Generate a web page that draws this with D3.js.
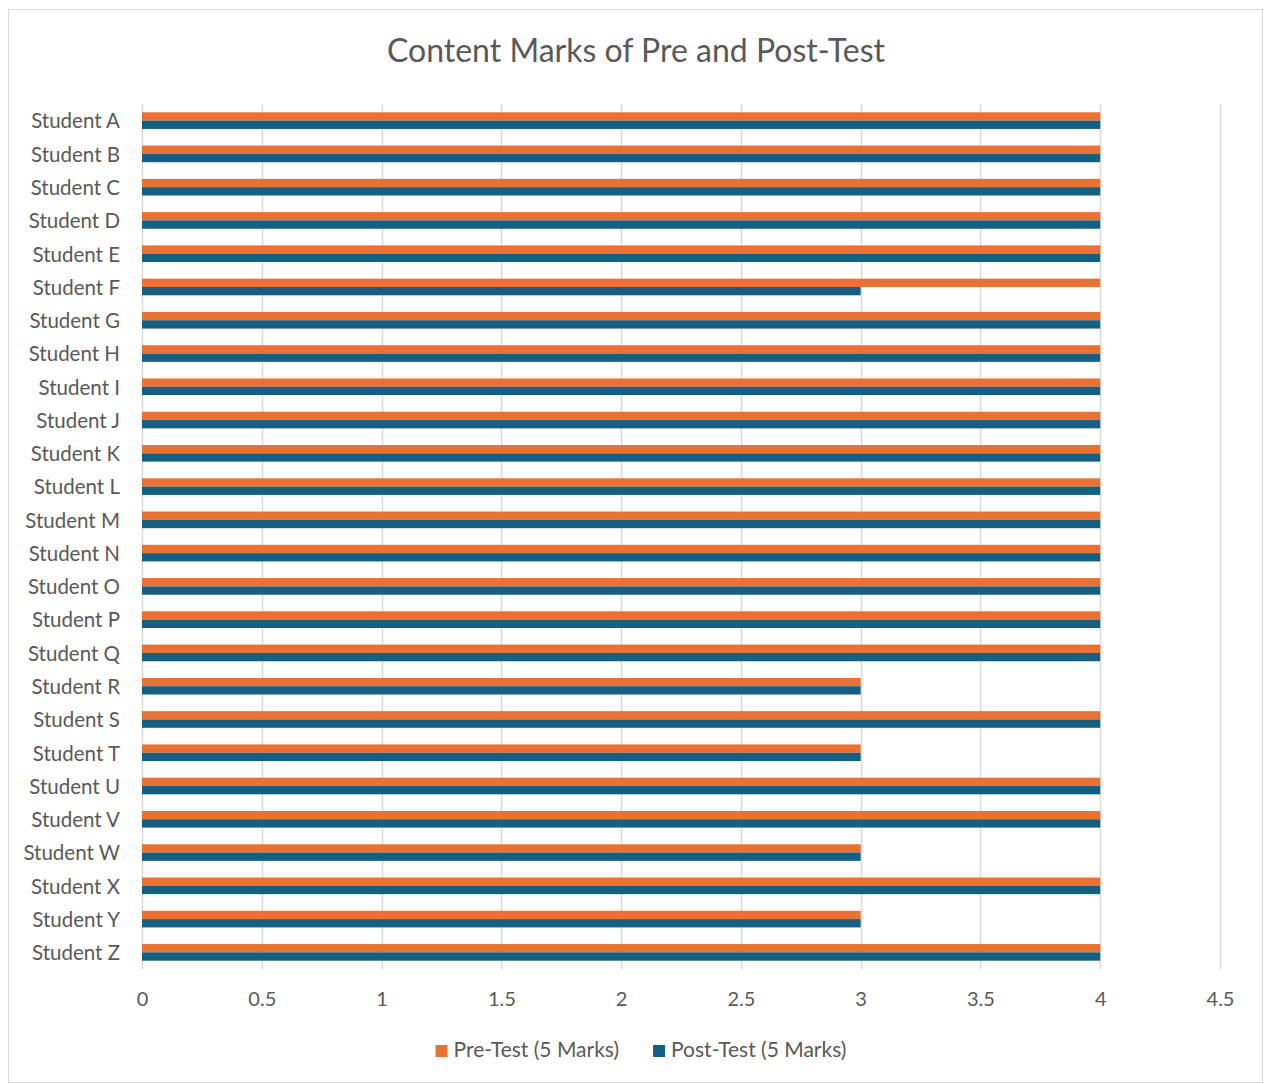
<!DOCTYPE html>
<html>
<head>
<meta charset="utf-8">
<script src="https://cdn.jsdelivr.net/npm/d3@7"></script>
<style>
  html, body { margin: 0; padding: 0; background: #ffffff; }
  svg { display: block; }
  text { font-family: Lato, "Open Sans", sans-serif; fill: #595959; }
</style>
</head>
<body>
<svg id="chart" width="1265" height="1084"></svg>
<script>
// Students on the vertical axis, top to bottom
const categories = ["Student A","Student B","Student C","Student D","Student E","Student F","Student G",
  "Student H","Student I","Student J","Student K","Student L","Student M","Student N","Student O",
  "Student P","Student Q","Student R","Student S","Student T","Student U","Student V","Student W",
  "Student X","Student Y","Student Z"];
const preTest  = [4,4,4,4,4,4,4,4,4,4,4,4,4,4,4,4,4,3,4,3,4,4,3,4,3,4];
const postTest = [4,4,4,4,4,3,4,4,4,4,4,4,4,4,4,4,4,3,4,3,4,4,3,4,3,4];
const seriesNames = ["Pre-Test (5 Marks)", "Post-Test (5 Marks)"];
const seriesColors = ["#E97132", "#156082"];
const xTicks = [0, 0.5, 1, 1.5, 2, 2.5, 3, 3.5, 4, 4.5];
const title = "Content Marks of Pre and Post-Test";

const svg = d3.select("#chart");

// chart frame
svg.append("rect")
  .attr("x", 8.5).attr("y", 9.5).attr("width", 1254).attr("height", 1073)
  .attr("fill", "#ffffff").attr("stroke", "#d9d9d9").attr("stroke-width", 1);

const plot = { left: 142, right: 1220, top: 104, bottom: 969 };

const x = d3.scaleLinear().domain([0, 4.5]).range([plot.left, plot.right]);
const y = d3.scaleBand().domain(categories).range([plot.top, plot.bottom]).paddingInner(0).paddingOuter(0);
// two bars per student, with a gap equal to the pair's height
const inner = d3.scaleBand().domain([0, 1]).range([0, y.bandwidth()]).paddingInner(0).paddingOuter(1);

// vertical gridlines
svg.append("g")
  .selectAll("line")
  .data(xTicks)
  .join("line")
  .attr("x1", d => Math.round(x(d)) + 0.5).attr("x2", d => Math.round(x(d)) + 0.5)
  .attr("y1", plot.top).attr("y2", plot.bottom)
  .attr("stroke", "#d9d9d9").attr("stroke-width", 1.5);

// bars
const rows = categories.map((c, i) => ({ c, vals: [preTest[i], postTest[i]] }));
const groups = svg.append("g").selectAll("g")
  .data(rows)
  .join("g")
  .attr("transform", d => `translate(0,${y(d.c)})`);
groups.selectAll("rect")
  .data(d => d.vals.map((v, k) => ({ v, k })))
  .join("rect")
  .attr("x", x(0))
  .attr("y", d => inner(d.k))
  .attr("width", d => x(d.v) - x(0))
  .attr("height", inner.bandwidth())
  .attr("fill", d => seriesColors[d.k]);

// category axis labels
const yAxis = d3.axisLeft(y).tickSize(0).tickPadding(22);
const yg = svg.append("g").attr("transform", `translate(${plot.left},0)`).call(yAxis);
yg.select(".domain").remove();
yg.selectAll("text").style("font-size", "20.5px").attr("fill", "#595959").attr("dy", "0.38em")
  .style("font-family", "Lato, 'Open Sans', sans-serif");

// value axis labels
const xAxis = d3.axisBottom(x).tickValues(xTicks).tickSize(0).tickPadding(23).tickFormat(d3.format("~g"));
const xg = svg.append("g").attr("transform", `translate(0,${plot.bottom})`).call(xAxis);
xg.select(".domain").remove();
xg.selectAll("text").style("font-size", "20px").attr("fill", "#595959")
  .style("font-family", "Lato, 'Open Sans', sans-serif");

// title
svg.append("text")
  .attr("x", 636).attr("y", 62)
  .attr("text-anchor", "middle")
  .style("font-size", "32px")
  .text(title);

// legend
const legend = svg.append("g");
const items = legend.selectAll("g").data(seriesNames).join("g");
items.append("rect").attr("width", 12).attr("height", 12).attr("y", -12)
  .attr("fill", (d, i) => seriesColors[i]);
items.append("text").attr("x", 18).attr("y", 0).style("font-size", "21px").text(d => d);
const widths = [];
items.each(function () { widths.push(this.getBBox().width); });
const gap = 34;
const total = d3.sum(widths) + gap * (widths.length - 1);
const start = 641 - total / 2;
items.attr("transform", (d, i) => {
  const tx = start + d3.sum(widths.slice(0, i)) + gap * i;
  return `translate(${tx},1057)`;
});
</script>
</body>
</html>
